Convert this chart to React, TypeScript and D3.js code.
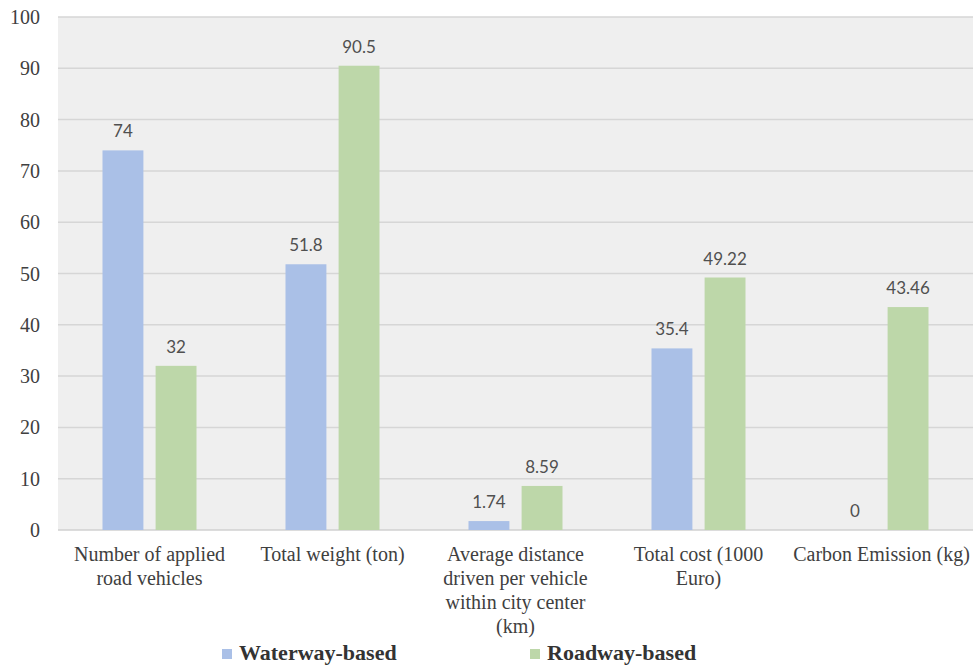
import React, { useRef, useEffect } from 'react';
import * as d3 from 'd3';

// categories, each split into the lines they wrap to
const categories = [
  'Number of applied road vehicles',
  'Total weight (ton)',
  'Average distance driven per vehicle within city center (km)',
  'Total cost (1000 Euro)',
  'Carbon Emission (kg)',
];
const categoryLines = [
  ['Number of applied', 'road vehicles'],
  ['Total weight (ton)'],
  ['Average distance', 'driven per vehicle', 'within city center', '(km)'],
  ['Total cost (1000', 'Euro)'],
  ['Carbon Emission (kg)'],
];
const waterway = [74, 51.8, 1.74, 35.4, 0];
const roadway = [32, 90.5, 8.59, 49.22, 43.46];
const yTicks = [0, 10, 20, 30, 40, 50, 60, 70, 80, 90, 100];

const seriesNames = ['Waterway-based', 'Roadway-based'];
const colors = ['#aac0e7', '#bdd7a9'];

const SERIF = "'Liberation Serif', 'DejaVu Serif', serif";

export default function App() {
  const svgRef = useRef<SVGSVGElement>(null);
  const width = 973;
  const height = 667;
  const margin = { top: 17, right: 0, bottom: 137, left: 58 };

  useEffect(() => {
    if (!svgRef.current) return;
    const svg = d3.select(svgRef.current);
    svg.selectAll('*').remove();

    const innerWidth = width - margin.left - margin.right;
    const innerHeight = height - margin.top - margin.bottom;

    const g = svg.append('g').attr('transform', `translate(${margin.left},${margin.top})`);

    // plot background
    g.append('rect')
      .attr('width', innerWidth)
      .attr('height', innerHeight)
      .attr('fill', '#efefef');

    const x0 = d3.scaleBand().domain(categories).range([0, innerWidth]).paddingInner(0).paddingOuter(0);
    const x1 = d3.scaleBand().domain(seriesNames).range([44.5, x0.bandwidth() - 44.5]).paddingInner(0.23);
    const y = d3.scaleLinear().domain([0, 100]).range([innerHeight, 0]);

    // gridlines
    g.selectAll('.grid')
      .data(yTicks)
      .enter()
      .append('line')
      .attr('x1', 0)
      .attr('x2', innerWidth)
      .attr('y1', d => y(d))
      .attr('y2', d => y(d))
      .attr('stroke', d => (d === 0 ? '#d0d0d0' : '#d6d6d6'))
      .attr('stroke-width', 1.5);

    // y tick labels
    g.selectAll('.ytick')
      .data(yTicks)
      .enter()
      .append('text')
      .attr('x', -18)
      .attr('y', d => y(d))
      .attr('dy', '0.35em')
      .attr('text-anchor', 'end')
      .style('font-family', SERIF)
      .attr('font-size', 20)
      .attr('fill', '#404040')
      .text(d => d);

    const series = [waterway, roadway];
    series.forEach((vals, si) => {
      const grp = g.append('g');
      grp.selectAll('rect')
        .data(vals)
        .enter()
        .append('rect')
        .attr('x', (_, i) => (x0(categories[i]) || 0) + (x1(seriesNames[si]) || 0))
        .attr('y', d => y(d))
        .attr('width', x1.bandwidth())
        .attr('height', d => innerHeight - y(d))
        .attr('fill', colors[si]);

      grp.selectAll('text')
        .data(vals)
        .enter()
        .append('text')
        .attr('x', (_, i) => (x0(categories[i]) || 0) + (x1(seriesNames[si]) || 0) + x1.bandwidth() / 2)
        .attr('y', d => y(d) - 13)
        .attr('text-anchor', 'middle')
        .style('font-family', "Lato, 'Open Sans', sans-serif")
        .attr('font-size', 17)
        .attr('fill', '#505050')
        .text(d => String(d));
    });

    // category labels
    categories.forEach((c, i) => {
      const cx = (x0(c) || 0) + x0.bandwidth() / 2;
      const t = g.append('text')
        .attr('text-anchor', 'middle')
        .style('font-family', SERIF)
        .attr('font-size', 20)
        .attr('fill', '#404040');
      categoryLines[i].forEach((line, li) => {
        t.append('tspan')
          .attr('x', cx)
          .attr('y', innerHeight + 31 + li * 24)
          .text(line);
      });
    });

    // legend
    const legendX = [222, 530];
    seriesNames.forEach((name, i) => {
      const lg = svg.append('g').attr('transform', `translate(${legendX[i]},${height - 7})`);
      lg.append('rect')
        .attr('x', 0)
        .attr('y', -11)
        .attr('width', 10)
        .attr('height', 10)
        .attr('fill', colors[i]);
      lg.append('text')
        .attr('x', 17)
        .attr('y', 0)
        .style('font-family', SERIF)
        .attr('font-weight', 'bold')
        .attr('font-size', 22)
        .attr('fill', '#333')
        .text(name);
    });
  }, []);

  return (
    <svg
      ref={svgRef}
      width={width}
      height={height}
      style={{ position: 'absolute', left: 0, top: 0, background: '#fff' }}
    />
  );
}
